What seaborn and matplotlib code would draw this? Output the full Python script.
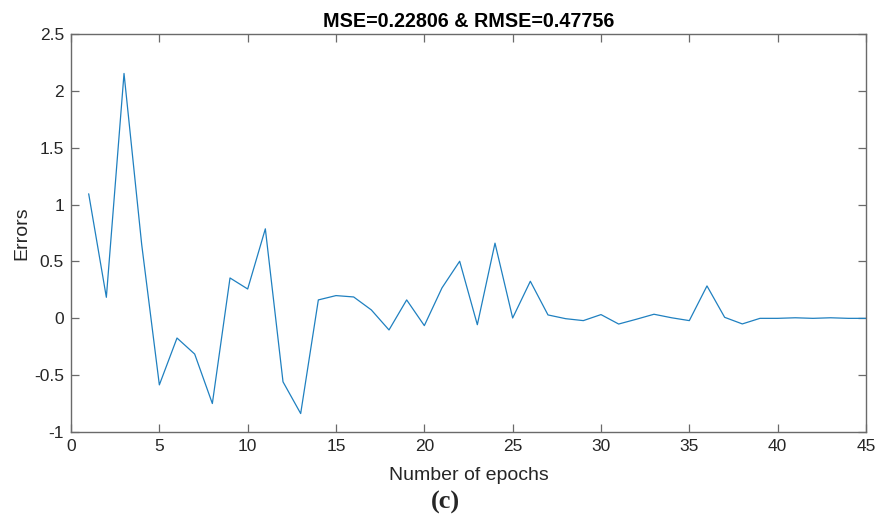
import numpy as np
import pandas as pd
import matplotlib
matplotlib.use("Agg")
import matplotlib.pyplot as plt
import seaborn as sns

epochs = list(range(1, 46))
errors = [1.095, 0.185, 2.153, 0.65, -0.585, -0.173, -0.314, -0.749, 0.355, 0.258,
          0.787, -0.558, -0.837, 0.162, 0.200, 0.188, 0.074, -0.102, 0.162, -0.064,
          0.268, 0.502, -0.056, 0.661, 0.003, 0.326, 0.030, -0.003, -0.020, 0.033,
          -0.050, -0.008, 0.036, 0.005, -0.020, 0.285, 0.009, -0.049, 0.000, 0.000,
          0.005, 0.000, 0.005, 0.000, 0.000]
title = "MSE=0.22806 & RMSE=0.47756"
xticks = [0, 5, 10, 15, 20, 25, 30, 35, 40, 45]
yticks = [-1, -0.5, 0, 0.5, 1, 1.5, 2, 2.5]
ytick_labels = ["-1", "-0.5", "0", "0.5", "1", "1.5", "2", "2.5"]

df = pd.DataFrame({"epoch": epochs, "error": errors})

sns.set_theme(style="white")
plt.rcParams['font.family'] = ['Liberation Sans', 'DejaVu Sans']

fig = plt.figure(figsize=(8.9, 5.15), dpi=100)
ax = fig.add_axes([0.0798, 0.161, 0.8932, 0.773])
sns.lineplot(data=df, x="epoch", y="error", ax=ax, color="#1f80c0", linewidth=0.9)

ax.set_xlim(0, 45)
ax.set_ylim(-1, 2.5)
ax.set_xticks(xticks)
ax.set_xticklabels([str(t) for t in xticks])
ax.set_yticks(yticks)
ax.set_yticklabels(ytick_labels)
edge = "#262626"
spine = "#6a6a6a"
for s in ax.spines.values():
    s.set_visible(True)
    s.set_color(spine)
    s.set_linewidth(1.0)
ax.tick_params(direction="in", length=6, width=0.9, color=spine, labelsize=12.5,
               labelcolor=edge, top=True, right=True, bottom=True, left=True, pad=5)
ax.set_xlabel("Number of epochs", fontsize=14, color=edge, labelpad=9)
ax.set_ylabel("Errors", fontsize=14, color=edge, labelpad=3)
ax.set_title(title, fontsize=14.2, fontweight="bold", color="black", pad=5)
fig.text(0.5, 0.025, "(c)", ha="center", va="center", fontsize=19,
         fontweight="bold", family=["Liberation Serif", "DejaVu Serif"])

fig.savefig("out.png", dpi=100)
